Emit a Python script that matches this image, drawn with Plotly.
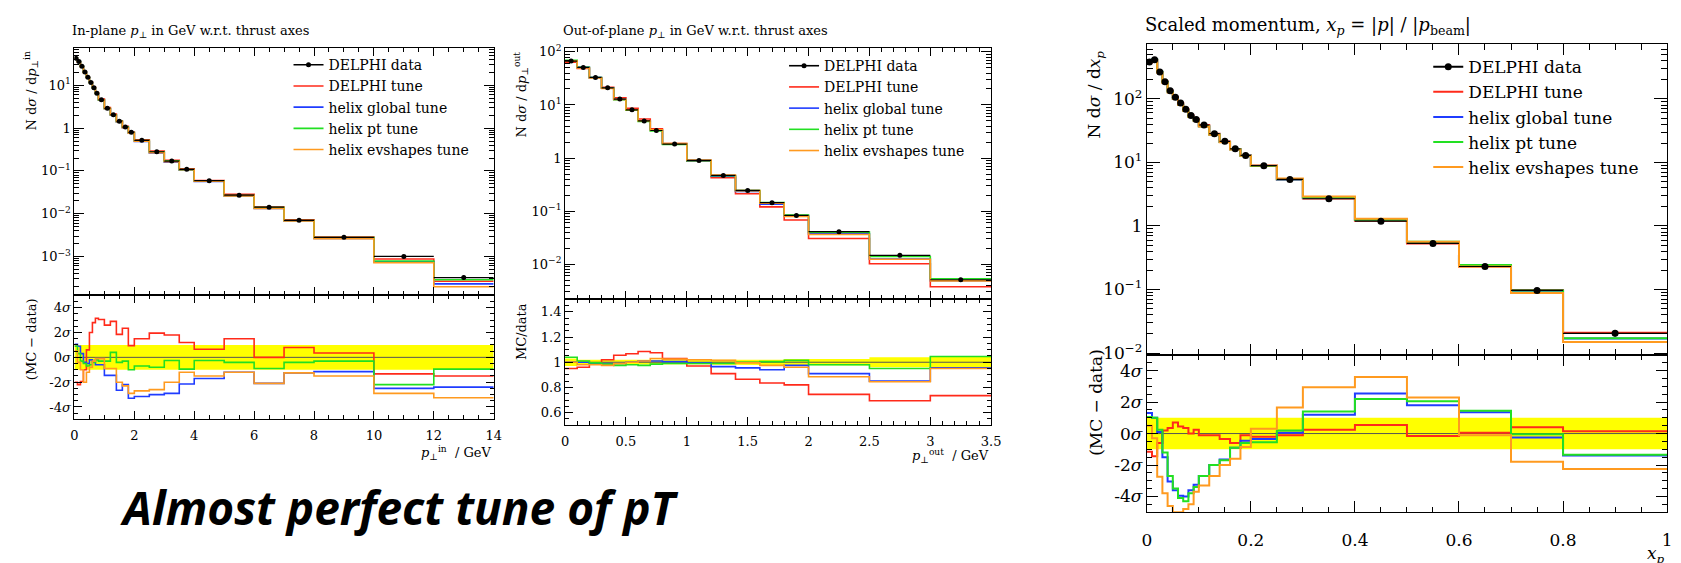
import plotly.graph_objects as go

W, H = 1681, 563
def px(x): return x / W
def py(y): return 1 - y / H

SERIF = "DejaVu Serif, Liberation Serif, serif"
C_RED, C_BLUE, C_GREEN, C_ORANGE = "#ff2a1a", "#1f3cff", "#22e022", "#ff9a1f"
tune_names = ["DELPHI tune", "helix global tune", "helix pt tune", "helix evshapes tune"]
tune_colors = [C_RED, C_BLUE, C_GREEN, C_ORANGE]

# ---------------- Panel 1: in-plane pT ----------------
edges1 = [0, 0.1, 0.2, 0.3, 0.4, 0.5, 0.6, 0.7, 0.8, 1.0, 1.2, 1.4, 1.6, 1.8, 2.0,
          2.5, 3.0, 3.5, 4.0, 5, 6, 7, 8, 10, 12, 14]
data1 = [43, 36, 28, 20.5, 15.4, 11.7, 8.8, 6.5, 4.6, 2.9, 2.05, 1.45, 1.06, 0.80,
         0.52, 0.28, 0.17, 0.109, 0.059, 0.027, 0.0142, 0.0070, 0.0028, 0.00100, 0.00032]
relerr1 = [0.015, 0.015, 0.015, 0.015, 0.015, 0.015, 0.015, 0.015, 0.015, 0.015, 0.015,
           0.015, 0.015, 0.015, 0.02, 0.02, 0.02, 0.02, 0.02, 0.03, 0.03, 0.03, 0.05, 0.10, 0.12]
dev1_delphi = [-2.0, -2.2, -1.95, -1.0, 0.6, 2.0, 2.8, 3.15, 3.05, 2.6, 2.9, 1.85, 2.35, 0.95,
               1.5, 1.95, 1.8, 1.2, 0.65, 1.5, 0.0, 0.8, 0.35, -1.33, -1.5]
dev1_global = [1.05, 0.9, 0.3, -0.4, -0.5, -0.2, -0.35, -0.6, -0.6, -1.45, -1.45, -2.65, -2.2, -3.3,
               -3.15, -3.0, -2.9, -2.15, -1.7, -1.2, -2.1, -1.25, -1.15, -2.5, -2.4]
dev1_pt = [0.9, 0.3, -0.3, -0.5, -0.7, -0.6, -0.4, -0.2, -0.3, -0.3, 0.4, -0.4, -0.3, -1.0,
           -0.7, -0.8, -0.25, -0.95, -0.25, -0.4, -0.9, -0.4, -0.3, -2.2, -0.95]
dev1_evshapes = [0.5, -0.4, -1.0, -2.0, -1.2, -0.8, -0.3, -0.1, -0.1, -0.9, -0.9, -2.0, -2.3, -2.9,
                 -2.7, -2.6, -2.0, -1.2, -1.5, -1.2, -2.1, -1.25, -1.5, -2.9, -3.25]

# ---------------- Panel 2: out-of-plane pT ----------------
edges2 = [0, 0.1, 0.2, 0.3, 0.4, 0.5, 0.6, 0.7, 0.8, 1.0, 1.2, 1.4, 1.6, 1.8, 2.0, 2.5, 3.0, 3.5]
data2 = [67, 51, 33, 21, 12.9, 8.1, 5.0, 3.3, 1.83, 0.90, 0.47, 0.245, 0.144, 0.083,
         0.041, 0.0147, 0.0051]
relerr2 = [0.03, 0.02, 0.015, 0.015, 0.015, 0.015, 0.015, 0.015, 0.015, 0.015, 0.02, 0.02,
           0.02, 0.025, 0.025, 0.04, 0.05]
ratio2_delphi = [0.95, 0.96, 0.985, 1.02, 1.055, 1.067, 1.085, 1.075, 1.03, 0.97, 0.91, 0.865,
                 0.835, 0.82, 0.745, 0.695, 0.735]
ratio2_global = [1.0, 1.0, 0.99, 0.99, 0.99, 1.0, 1.01, 1.01, 1.005, 0.995, 0.965, 0.955,
                 0.94, 0.975, 0.91, 0.85, 0.955]
ratio2_pt = [1.04, 1.01, 0.995, 0.985, 0.975, 0.98, 0.975, 0.985, 0.99, 0.99, 0.99, 1.0,
             1.005, 1.015, 0.98, 0.95, 1.045]
ratio2_evshapes = [1.0, 0.98, 0.98, 0.975, 0.99, 1.0, 1.01, 1.03, 1.025, 1.02, 1.015, 0.995,
                   0.975, 0.96, 0.885, 0.845, 0.95]

# ---------------- Panel 3: scaled momentum ----------------
edges3 = [0, 0.01, 0.02, 0.03, 0.04, 0.05, 0.06, 0.07, 0.08, 0.09, 0.1, 0.12, 0.14, 0.16,
          0.18, 0.2, 0.25, 0.3, 0.4, 0.5, 0.6, 0.7, 0.8, 1.0]
data3 = [380, 412, 266, 187, 134, 106, 86, 69, 55, 47.5, 38.8, 28.3, 21.5, 16.4, 12.9,
         8.9, 5.4, 2.68, 1.19, 0.53, 0.23, 0.0966, 0.0204]
relerr3 = [0.012, 0.012, 0.012, 0.012, 0.012, 0.012, 0.012, 0.012, 0.012, 0.012, 0.015,
           0.015, 0.015, 0.015, 0.015, 0.02, 0.02, 0.03, 0.025, 0.03, 0.04, 0.05, 0.12]
dev3_delphi = [-1.15, -1.45, -0.6, 0.2, 0.35, 0.7, 0.45, 0.35, 0.0, 0.25, -0.1, -0.1, -0.35,
               -0.6, -0.1, -0.2, -0.1, 0.25, 0.55, -0.15, 0.05, 0.4, 0.15]
dev3_global = [1.3, 1.0, 0.1, -1.5, -3.05, -3.6, -3.95, -4.0, -3.6, -3.25, -2.7, -2.0, -1.65,
               -0.9, -0.45, -0.35, 0.05, 1.2, 2.55, 1.8, 1.35, -0.25, -1.4]
dev3_pt = [1.05, 1.0, 0.25, -1.2, -2.7, -3.5, -4.1, -4.3, -3.8, -3.4, -2.7, -2.0, -1.7,
           -0.9, -0.6, -0.55, 0.2, 1.4, 2.2, 2.05, 1.45, -0.05, -1.35]
dev3_evshapes = [0.5, -0.3, -2.75, -3.8, -4.6, -5.0, -5.0, -4.8, -4.5, -3.7, -3.3, -2.7, -2.0,
                 -1.6, -0.85, 0.3, 1.65, 2.95, 3.6, 2.3, -0.1, -1.8, -2.25]

band_sigma = 1.0

# tick labels
x1_ticks = [0, 2, 4, 6, 8, 10, 12, 14]
x2_ticks = [0, 0.5, 1, 1.5, 2, 2.5, 3, 3.5]
x2_text = ["0", "0.5", "1", "1.5", "2", "2.5", "3", "3.5"]
x3_ticks = [0, 0.2, 0.4, 0.6, 0.8, 1.0]
x3_text = ["0", "0.2", "0.4", "0.6", "0.8", "1"]
sig_vals = [-4, -2, 0, 2, 4]
sig_text = ["-4<i>σ</i>", "-2<i>σ</i>", "0<i>σ</i>", "2<i>σ</i>", "4<i>σ</i>"]
log1_vals = [1e-3, 1e-2, 1e-1, 1, 10]
log1_text = ["10<sup>−3</sup>", "10<sup>−2</sup>", "10<sup>−1</sup>", "1", "10<sup>1</sup>"]
log2_vals = [1e-2, 1e-1, 1, 10, 100]
log2_text = ["10<sup>−2</sup>", "10<sup>−1</sup>", "1", "10<sup>1</sup>", "10<sup>2</sup>"]
rat_vals = [0.6, 0.8, 1.0, 1.2, 1.4]
rat_text = ["0.6", "0.8", "1", "1.2", "1.4"]

fig = go.Figure()

def step(vals):
    return list(vals) + [vals[-1]]

def centers(e):
    return [(e[i] + e[i + 1]) / 2 for i in range(len(e) - 1)]

def halfw(e):
    return [(e[i + 1] - e[i]) / 2 for i in range(len(e) - 1)]

def add_panel(k, edges, data, relerr, mc_main, mc_ratio, ratio_kind, lw, msize, legname):
    xa_m, ya_m = f"x{2*k-1}", f"y{2*k-1}"
    xa_r, ya_r = f"x{2*k}", f"y{2*k}"
    fig.add_trace(go.Scatter(x=[None], y=[None], mode="lines+markers", name="DELPHI data",
                             line=dict(color="black", width=lw), marker=dict(color="black", size=msize),
                             xaxis=xa_m, yaxis=ya_m, legend=legname))
    for name, col, mv in zip(tune_names, tune_colors, mc_main):
        fig.add_trace(go.Scatter(x=edges, y=step(mv), mode="lines", line_shape="hv", name=name,
                                 line=dict(color=col, width=lw), xaxis=xa_m, yaxis=ya_m,
                                 legend=legname))
    fig.add_trace(go.Scatter(x=centers(edges), y=data, mode="markers", showlegend=False,
                             marker=dict(color="black", size=msize),
                             error_x=dict(type="data", array=halfw(edges), width=0, thickness=1.2, color="black"),
                             error_y=dict(type="data", array=[d * r for d, r in zip(data, relerr)],
                                          width=0, thickness=1.2, color="black"),
                             xaxis=xa_m, yaxis=ya_m))
    if ratio_kind == "sigma":
        bx = [edges[0], edges[-1], edges[-1], edges[0]]
        by = [-band_sigma, -band_sigma, band_sigma, band_sigma]
        ref = 0.0
    else:
        up_x, up_y, lo_x, lo_y = [], [], [], []
        for i in range(len(relerr)):
            up_x += [edges[i], edges[i + 1]]
            up_y += [1 + relerr[i], 1 + relerr[i]]
            lo_x += [edges[i], edges[i + 1]]
            lo_y += [1 - relerr[i], 1 - relerr[i]]
        bx = up_x + lo_x[::-1]
        by = up_y + lo_y[::-1]
        ref = 1.0
    fig.add_trace(go.Scatter(x=bx, y=by, fill="toself", fillcolor="#ffff00", mode="lines",
                             line=dict(width=0, color="#ffff00"), showlegend=False,
                             hoverinfo="skip", xaxis=xa_r, yaxis=ya_r))
    fig.add_trace(go.Scatter(x=[edges[0], edges[-1]], y=[ref, ref], mode="lines",
                             line=dict(color="#555555", width=1), showlegend=False,
                             xaxis=xa_r, yaxis=ya_r))
    for col, rv in zip(tune_colors, mc_ratio):
        fig.add_trace(go.Scatter(x=edges, y=step(rv), mode="lines", line_shape="hv",
                                 line=dict(color=col, width=lw), showlegend=False,
                                 xaxis=xa_r, yaxis=ya_r))

devs1 = [dev1_delphi, dev1_global, dev1_pt, dev1_evshapes]
mc1 = [[d * (1 + s * r) for d, s, r in zip(data1, dv, relerr1)] for dv in devs1]
add_panel(1, edges1, data1, relerr1, mc1, devs1, "sigma", 1.6, 5, "legend")

rats2 = [ratio2_delphi, ratio2_global, ratio2_pt, ratio2_evshapes]
mc2 = [[d * q for d, q in zip(data2, rv)] for rv in rats2]
add_panel(2, edges2, data2, relerr2, mc2, rats2, "ratio", 1.6, 5, "legend2")

devs3 = [dev3_delphi, dev3_global, dev3_pt, dev3_evshapes]
mc3 = [[d * (1 + s * r) for d, s, r in zip(data3, dv, relerr3)] for dv in devs3]
add_panel(3, edges3, data3, relerr3, mc3, devs3, "sigma", 2.0, 7, "legend3")

def xax(dom, rng, vals, texts, mdt, labels, anchor, fs, tl, standoff=0):
    d = dict(domain=dom, range=rng, tickmode="array", tickvals=vals, ticktext=texts,
             ticks="inside", ticklen=tl,
             tickcolor="black", mirror="allticks", showline=True, linecolor="black",
             linewidth=1, showgrid=False, zeroline=False, showticklabels=labels,
             anchor=anchor, tickfont=dict(family=SERIF, size=fs, color="black"),
             minor=dict(dtick=mdt, tick0=0, ticks="inside", ticklen=tl / 2, tickcolor="black",
                        showgrid=False))
    if standoff:
        d["ticklabelstandoff"] = standoff
    return d

def ylog(dom, rng, vals, texts, anchor, fs, tl):
    return dict(domain=dom, type="log", range=rng, tickmode="array", tickvals=vals, ticktext=texts,
                ticks="inside", ticklen=tl, tickcolor="black", mirror="allticks", showline=True,
                linecolor="black", linewidth=1, showgrid=False, zeroline=False, anchor=anchor,
                tickfont=dict(family=SERIF, size=fs, color="black"),
                minor=dict(dtick="D1", ticks="inside", ticklen=tl / 2, tickcolor="black", showgrid=False))

def ylin(dom, rng, vals, texts, mdt, anchor, fs, tl):
    return dict(domain=dom, range=rng, tickmode="array", tickvals=vals, ticktext=texts,
                ticks="inside", ticklen=tl, tickcolor="black", mirror="allticks", showline=True,
                linecolor="black", linewidth=1, showgrid=False, zeroline=False, anchor=anchor,
                tickfont=dict(family=SERIF, size=fs, color="black"),
                minor=dict(dtick=mdt, tick0=0, ticks="inside", ticklen=tl / 2, tickcolor="black",
                           showgrid=False))

d1x = [px(62), px(485)]
d2x = [px(557), px(987)]
d3x = [px(1144), px(1669)]
x1_text = [str(v) for v in x1_ticks]

fig.update_layout(
    xaxis=xax(d1x, [0, 14], x1_ticks, x1_text, 0.5, False, "y", 13, 8),
    yaxis=ylog([py(289), py(36)], [-3.91, 1.87], log1_vals, log1_text, "x", 13, 10),
    xaxis2=xax(d1x, [0, 14], x1_ticks, x1_text, 0.5, True, "y2", 13, 8, 4),
    yaxis2=ylin([py(416), py(289)], [-5, 5], sig_vals, sig_text, 0.5, "x2", 13, 8),
    xaxis3=xax(d2x, [0, 3.5], x2_ticks, x2_text, 0.1, False, "y3", 13, 8),
    yaxis3=ylog([py(293), py(36)], [-2.66, 2.07], log2_vals, log2_text, "x3", 13, 10),
    xaxis4=xax(d2x, [0, 3.5], x2_ticks, x2_text, 0.1, True, "y4", 13, 8, 4),
    yaxis4=ylin([py(422), py(293)], [0.5, 1.5], rat_vals, rat_text, 0.05, "x4", 13, 8),
    xaxis5=xax(d3x, [0, 1], x3_ticks, x3_text, 0.05, False, "y5", 17, 11),
    yaxis5=ylog([py(350), py(32)], [-2.03, 2.86], log2_vals, log2_text, "x5", 17, 13),
    xaxis6=xax(d3x, [0, 1], x3_ticks, x3_text, 0.05, True, "y6", 17, 11, 12),
    yaxis6=ylin([py(511), py(350)], [-5, 5], sig_vals, sig_text, 0.5, "x6", 17, 11),
)

def leg(x, y, fs):
    return dict(x=px(x), y=py(y), xanchor="left", yanchor="top", bgcolor="rgba(0,0,0,0)",
                font=dict(family=SERIF, size=fs, color="black"), itemwidth=30, tracegroupgap=0)

fig.update_layout(
    width=W, height=H, margin=dict(l=0, r=0, t=0, b=0),
    paper_bgcolor="white", plot_bgcolor="white",
    legend=leg(278, 37, 14), legend2=leg(778, 38, 14), legend3=leg(1428, 37, 17),
)

def ann(text, x, y, fs, xanchor="left", yanchor="middle", angle=0, fam=SERIF, **kw):
    fig.add_annotation(text=text, x=px(x), y=py(y), xref="paper", yref="paper",
                       xanchor=xanchor, yanchor=yanchor, showarrow=False, textangle=angle,
                       font=dict(family=fam, size=fs, color="black"), **kw)

# titles
ann("In-plane <i>p</i><sub>⊥</sub> in GeV w.r.t. thrust axes", 58, 19, 13)
ann("Out-of-plane <i>p</i><sub>⊥</sub> in GeV w.r.t. thrust axes", 553, 19, 13)
ann("Scaled momentum, <i>x<sub>p</sub></i> = |<i>p</i>| / |<i>p</i><sub>beam</sub>|", 1140, 13, 18)

# y titles
ann("N d<i>σ</i> / d<i>p</i><sub>⊥</sub><sup>in</sup>", 18, 37, 13, "center", "top", -90)
ann("(MC − data)", 18, 290, 13, "center", "top", -90)
ann("N d<i>σ</i> / d<i>p</i><sub>⊥</sub><sup>out</sup>", 513, 37, 13, "center", "top", -90)
ann("MC/data", 513, 295, 13, "center", "top", -90)
ann("N d<i>σ</i> / d<i>x<sub>p</sub></i>", 1092, 36, 17, "center", "top", -90)
ann("(MC − data)", 1092, 342, 17, "center", "top", -90)

# x titles
ann("<i>p</i><sub>⊥</sub><sup>in</sup>  / GeV", 485, 450, 13, "right")
ann("<i>p</i><sub>⊥</sub><sup>out</sup>  / GeV", 987, 453, 13, "right")
ann("<i>x<sub>p</sub></i>", 1669, 554, 17, "right")

# slide caption
ann("<b><i>Almost perfect tune of pT</i></b>", 106, 506, 46, "left", "middle", 0,
    fam="Noto Sans, Open Sans, sans-serif")

fig.write_html("out.html")
